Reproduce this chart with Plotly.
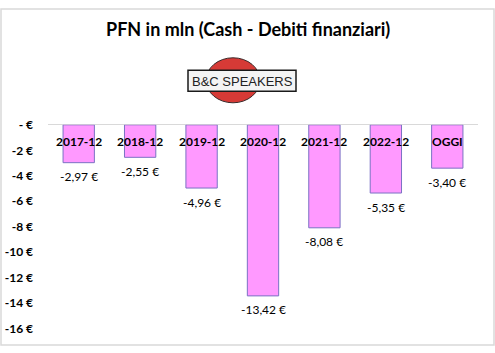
import plotly.graph_objects as go

W, H = 495, 353

categories = ["2017-12", "2018-12", "2019-12", "2020-12", "2021-12", "2022-12", "OGGI"]
values = [-2.97, -2.55, -4.96, -13.42, -8.08, -5.35, -3.40]
tick_vals = [0, -2, -4, -6, -8, -10, -12, -14, -16]
tick_text = ["- €", "-2 €", "-4 €", "-6 €", "-8 €", "-10 €", "-12 €", "-14 €", "-16 €"]

FONT = "Lato"

def px_x(p):
    return p / W

def px_y(p):
    return 1 - p / H

fig = go.Figure()
fig.add_trace(go.Bar(
    x=categories, y=values,
    marker=dict(color="#FF99FF", line=dict(color="#7B72C4", width=1)),
    hoverinfo="skip",
))

annotations = []
for c, v in zip(categories, values):
    annotations.append(dict(
        x=c, y=v, xref="x", yref="y", text=("%.2f €" % v).replace(".", ","),
        showarrow=False, yanchor="middle", yshift=-14,
        font=dict(family=FONT, size=12, color="#000000"),
    ))
    annotations.append(dict(
        x=c, y=0, xref="x", yref="y", text="<b>%s</b>" % c,
        showarrow=False, yanchor="middle", yshift=-17,
        font=dict(family=FONT, size=12, color="#000000"),
    ))

annotations.append(dict(
    x=0.5, y=px_y(22), xref="paper", yref="paper",
    text="<b>PFN in mln (Cash - Debiti finanziari)</b>", showarrow=False,
    xanchor="center", yanchor="middle",
    font=dict(family=FONT, size=18, color="#000000"),
))
annotations.append(dict(
    x=px_x(242), y=px_y(76.5), xref="paper", yref="paper",
    text="B&C SPEAKERS", showarrow=False, xanchor="center", yanchor="middle",
    font=dict(family="Liberation Sans", size=13, color="#222222"),
))

shapes = [
    dict(type="rect", xref="paper", yref="paper", x0=px_x(1), x1=px_x(494),
         y0=px_y(352), y1=px_y(1), line=dict(color="#D9D9D9", width=1.5),
         fillcolor="rgba(0,0,0,0)", layer="below"),
    dict(type="circle", xref="paper", yref="paper", x0=px_x(206), x1=px_x(260),
         y0=px_y(99), y1=px_y(52), fillcolor="#D63A36",
         line=dict(color="#3A2A2A", width=1)),
    dict(type="rect", xref="paper", yref="paper", x0=px_x(188), x1=px_x(296),
         y0=px_y(87), y1=px_y(65), fillcolor="#F4F4F4",
         line=dict(color="#1A1A1A", width=1.5)),
]

fig.update_layout(
    width=W, height=H,
    margin=dict(l=0, r=0, t=0, b=0),
    paper_bgcolor="white", plot_bgcolor="white",
    showlegend=False,
    bargap=0.49,
    annotations=annotations,
    shapes=shapes,
    xaxis=dict(type="category", domain=[px_x(48), px_x(478)], showticklabels=False,
               showgrid=False, zeroline=False, showline=False, ticks="", fixedrange=True),
    yaxis=dict(domain=[px_y(335), px_y(122)], range=[-16, 0], showgrid=False,
               zeroline=True, zerolinecolor="#D9D9D9", zerolinewidth=1,
               tickvals=tick_vals, ticktext=["<b>%s</b>" % t for t in tick_text],
               tickfont=dict(family=FONT, size=12, color="#000000"),
               ticks="", showline=False, ticklabelstandoff=14, fixedrange=True),
)

fig.write_html("out.html")
